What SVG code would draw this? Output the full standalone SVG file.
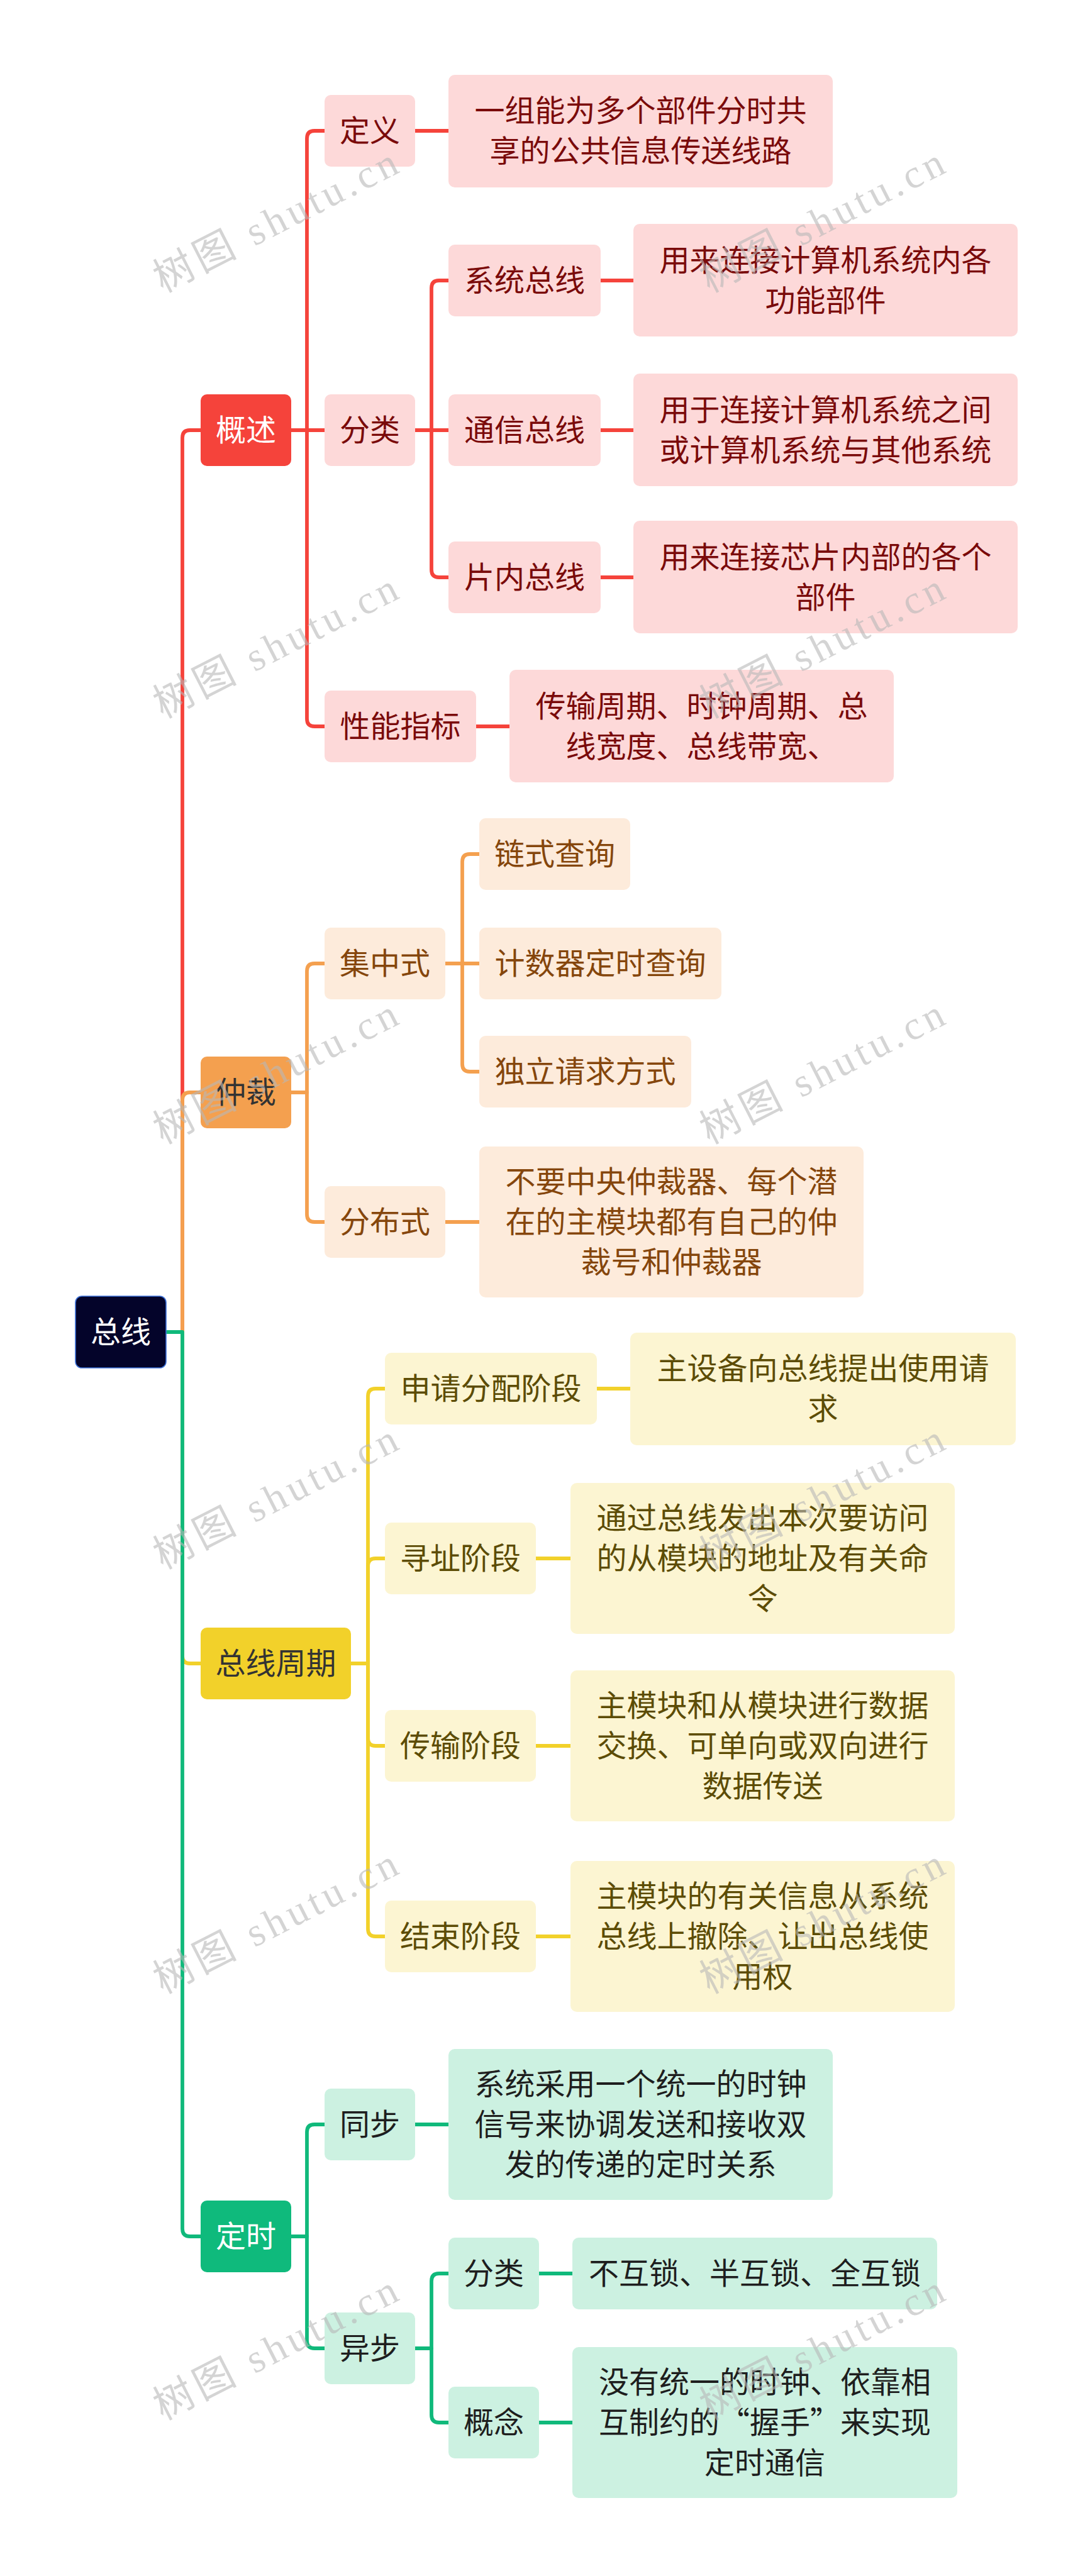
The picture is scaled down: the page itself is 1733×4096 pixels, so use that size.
<svg xmlns="http://www.w3.org/2000/svg" width="1733" height="4096" viewBox="0 0 1733 4096">
<style>
.ln{fill:none;stroke-width:5.8;stroke-linecap:butt;stroke-linejoin:round}
.lr{stroke:#f5433b}.lo{stroke:#f4a04f}.ly{stroke:#f2d12a}.lg{stroke:#10b97b}
.r1{fill:#f5433b}.r2{fill:#fdd9d9}.o1{fill:#f4a04f}.o2{fill:#fdebdb}.y1{fill:#f2d12a}.y2{fill:#fcf5d2}.g1{fill:#0fba7c}.g2{fill:#ccf1e1}
text{font-family:"Noto Sans CJK SC","Noto Sans",sans-serif;font-size:48px;text-anchor:middle}
.tr{fill:#7a0a0a}.to{fill:#85460c}.ty{fill:#5c4c05}.tg{fill:#1e1e1e}.tw{fill:#ffffff}.td{fill:#333333}
.wm{font-family:"Liberation Serif","Noto Sans CJK SC",serif;font-size:64px;fill:#b8b8b8;opacity:0.6}
</style>
<rect width="1733" height="4096" fill="#ffffff"/>
<g id="connectors">
<path class="ln lr" d="M264,2118 H290 V696 Q290,684 302,684 H319"/>
<path class="ln lo" d="M264,2118 H290 V1749 Q290,1737 302,1737 H319"/>
<path class="ln ly" d="M264,2118 H290 V2633 Q290,2645 302,2645 H319"/>
<path class="ln lg" d="M264,2118 H290 V3544 Q290,3556 302,3556 H319"/>
<path class="ln lr" d="M463,684 H488 V220 Q488,208 500,208 H516"/>
<path class="ln lr" d="M463,684 H516"/>
<path class="ln lr" d="M463,684 H488 V1143 Q488,1155 500,1155 H516"/>
<path class="ln lr" d="M660,208 H713"/>
<path class="ln lr" d="M660,684 H686 V458 Q686,446 698,446 H713"/>
<path class="ln lr" d="M660,684 H713"/>
<path class="ln lr" d="M660,684 H686 V906 Q686,918 698,918 H713"/>
<path class="ln lr" d="M955,446 H1007"/>
<path class="ln lr" d="M955,684 H1007"/>
<path class="ln lr" d="M955,918 H1007"/>
<path class="ln lr" d="M757,1155 H810"/>
<path class="ln lo" d="M463,1737 H488 V1544 Q488,1532 500,1532 H516"/>
<path class="ln lo" d="M463,1737 H488 V1931 Q488,1943 500,1943 H516"/>
<path class="ln lo" d="M708,1532 H735 V1370 Q735,1358 747,1358 H762"/>
<path class="ln lo" d="M708,1532 H762"/>
<path class="ln lo" d="M708,1532 H735 V1692 Q735,1704 747,1704 H762"/>
<path class="ln lo" d="M708,1943 H762"/>
<path class="ln ly" d="M558,2645 H585 V2220 Q585,2208 597,2208 H612"/>
<path class="ln ly" d="M558,2645 H585 V2490 Q585,2478 597,2478 H612"/>
<path class="ln ly" d="M558,2645 H585 V2764 Q585,2776 597,2776 H612"/>
<path class="ln ly" d="M558,2645 H585 V3067 Q585,3079 597,3079 H612"/>
<path class="ln ly" d="M949,2208 H1002"/>
<path class="ln ly" d="M852,2478 H907"/>
<path class="ln ly" d="M852,2776 H907"/>
<path class="ln ly" d="M852,3079 H907"/>
<path class="ln lg" d="M463,3556 H488 V3390 Q488,3378 500,3378 H516"/>
<path class="ln lg" d="M463,3556 H488 V3722 Q488,3734 500,3734 H516"/>
<path class="ln lg" d="M660,3378 H713"/>
<path class="ln lg" d="M660,3734 H686 V3627 Q686,3615 698,3615 H713"/>
<path class="ln lg" d="M660,3734 H686 V3840 Q686,3852 698,3852 H713"/>
<path class="ln lg" d="M857,3615 H910"/>
<path class="ln lg" d="M857,3852 H910"/>
</g>
<g id="root"><rect x="120" y="2061" width="144" height="114" rx="10" fill="#04042a" stroke="#3a6fd8" stroke-width="1.6"/><text class="tw" x="192" y="2135">总线</text></g>
<g id="n-gaishu"><rect class="r1" x="319" y="627" width="144" height="114" rx="10"/><text class="tw" x="391" y="701">概述</text></g>
<g id="n-dingyi"><rect class="r2" x="516" y="151" width="144" height="114" rx="10"/><text class="tr" x="588" y="225">定义</text></g>
<g id="n-dingyi-d"><rect class="r2" x="713" y="119" width="611" height="179" rx="10"/><text class="tr" x="1018.5" y="193">一组能为多个部件分时共</text><text class="tr" x="1018.5" y="257">享的公共信息传送线路</text></g>
<g id="n-fenlei"><rect class="r2" x="516" y="627" width="144" height="114" rx="10"/><text class="tr" x="588" y="701">分类</text></g>
<g id="n-xitong"><rect class="r2" x="713" y="389" width="242" height="114" rx="10"/><text class="tr" x="834" y="463">系统总线</text></g>
<g id="n-xitong-d"><rect class="r2" x="1007" y="356" width="611" height="179" rx="10"/><text class="tr" x="1312.5" y="431">用来连接计算机系统内各</text><text class="tr" x="1312.5" y="495">功能部件</text></g>
<g id="n-tongxin"><rect class="r2" x="713" y="627" width="242" height="114" rx="10"/><text class="tr" x="834" y="701">通信总线</text></g>
<g id="n-tongxin-d"><rect class="r2" x="1007" y="594" width="611" height="179" rx="10"/><text class="tr" x="1312.5" y="669">用于连接计算机系统之间</text><text class="tr" x="1312.5" y="733">或计算机系统与其他系统</text></g>
<g id="n-piannei"><rect class="r2" x="713" y="861" width="242" height="114" rx="10"/><text class="tr" x="834" y="935">片内总线</text></g>
<g id="n-piannei-d"><rect class="r2" x="1007" y="828" width="611" height="179" rx="10"/><text class="tr" x="1312.5" y="903">用来连接芯片内部的各个</text><text class="tr" x="1312.5" y="967">部件</text></g>
<g id="n-xingneng"><rect class="r2" x="516" y="1098" width="241" height="114" rx="10"/><text class="tr" x="636.5" y="1172">性能指标</text></g>
<g id="n-xingneng-d"><rect class="r2" x="810" y="1065" width="611" height="179" rx="10"/><text class="tr" x="1115.5" y="1140">传输周期、时钟周期、总</text><text class="tr" x="1115.5" y="1204">线宽度、总线带宽、</text></g>
<g id="n-zhongcai"><rect class="o1" x="319" y="1680" width="144" height="114" rx="10"/><text class="td" x="391" y="1754">仲裁</text></g>
<g id="n-jizhong"><rect class="o2" x="516" y="1475" width="192" height="114" rx="10"/><text class="to" x="612" y="1549">集中式</text></g>
<g id="n-lianshi"><rect class="o2" x="762" y="1301" width="240" height="114" rx="10"/><text class="to" x="882" y="1375">链式查询</text></g>
<g id="n-jishuqi"><rect class="o2" x="762" y="1475" width="385" height="114" rx="10"/><text class="to" x="954.5" y="1549">计数器定时查询</text></g>
<g id="n-duli"><rect class="o2" x="762" y="1647" width="337" height="114" rx="10"/><text class="to" x="930.5" y="1721">独立请求方式</text></g>
<g id="n-fenbu"><rect class="o2" x="516" y="1886" width="192" height="114" rx="10"/><text class="to" x="612" y="1960">分布式</text></g>
<g id="n-fenbu-d"><rect class="o2" x="762" y="1823" width="611" height="240" rx="10"/><text class="to" x="1067.5" y="1896">不要中央仲裁器、每个潜</text><text class="to" x="1067.5" y="1960">在的主模块都有自己的仲</text><text class="to" x="1067.5" y="2024">裁号和仲裁器</text></g>
<g id="n-zhouqi"><rect class="y1" x="319" y="2588" width="239" height="114" rx="10"/><text class="td" x="438.5" y="2662">总线周期</text></g>
<g id="n-shenqing"><rect class="y2" x="612" y="2151" width="337" height="114" rx="10"/><text class="ty" x="780.5" y="2225">申请分配阶段</text></g>
<g id="n-shenqing-d"><rect class="y2" x="1002" y="2119" width="613" height="179" rx="10"/><text class="ty" x="1308.5" y="2193">主设备向总线提出使用请</text><text class="ty" x="1308.5" y="2257">求</text></g>
<g id="n-xunzhi"><rect class="y2" x="612" y="2421" width="240" height="114" rx="10"/><text class="ty" x="732" y="2495">寻址阶段</text></g>
<g id="n-xunzhi-d"><rect class="y2" x="907" y="2358" width="611" height="240" rx="10"/><text class="ty" x="1212.5" y="2431">通过总线发出本次要访问</text><text class="ty" x="1212.5" y="2495">的从模块的地址及有关命</text><text class="ty" x="1212.5" y="2559">令</text></g>
<g id="n-chuanshu"><rect class="y2" x="612" y="2719" width="240" height="114" rx="10"/><text class="ty" x="732" y="2793">传输阶段</text></g>
<g id="n-chuanshu-d"><rect class="y2" x="907" y="2656" width="611" height="240" rx="10"/><text class="ty" x="1212.5" y="2729">主模块和从模块进行数据</text><text class="ty" x="1212.5" y="2793">交换、可单向或双向进行</text><text class="ty" x="1212.5" y="2857">数据传送</text></g>
<g id="n-jieshu"><rect class="y2" x="612" y="3022" width="240" height="114" rx="10"/><text class="ty" x="732" y="3096">结束阶段</text></g>
<g id="n-jieshu-d"><rect class="y2" x="907" y="2959" width="611" height="240" rx="10"/><text class="ty" x="1212.5" y="3032">主模块的有关信息从系统</text><text class="ty" x="1212.5" y="3096">总线上撤除、让出总线使</text><text class="ty" x="1212.5" y="3160">用权</text></g>
<g id="n-dingshi"><rect class="g1" x="319" y="3499" width="144" height="114" rx="10"/><text class="tw" x="391" y="3573">定时</text></g>
<g id="n-tongbu"><rect class="g2" x="516" y="3321" width="144" height="114" rx="10"/><text class="tg" x="588" y="3395">同步</text></g>
<g id="n-tongbu-d"><rect class="g2" x="713" y="3258" width="611" height="240" rx="10"/><text class="tg" x="1018.5" y="3331">系统采用一个统一的时钟</text><text class="tg" x="1018.5" y="3395">信号来协调发送和接收双</text><text class="tg" x="1018.5" y="3459">发的传递的定时关系</text></g>
<g id="n-yibu"><rect class="g2" x="516" y="3677" width="144" height="114" rx="10"/><text class="tg" x="588" y="3751">异步</text></g>
<g id="n-yb-fenlei"><rect class="g2" x="713" y="3558" width="144" height="114" rx="10"/><text class="tg" x="785" y="3632">分类</text></g>
<g id="n-yb-fenlei-d"><rect class="g2" x="910" y="3558" width="580" height="114" rx="10"/><text class="tg" x="1200" y="3632">不互锁、半互锁、全互锁</text></g>
<g id="n-gainian"><rect class="g2" x="713" y="3795" width="144" height="114" rx="10"/><text class="tg" x="785" y="3869">概念</text></g>
<g id="n-gainian-d"><rect class="g2" x="910" y="3732" width="612" height="240" rx="10"/><text class="tg" x="1216" y="3805">没有统一的时钟、依靠相</text><text class="tg" x="1216" y="3869">互制约的“握手”来实现</text><text class="tg" x="1216" y="3933">定时通信</text></g>
<g id="watermarks">
<text class="wm" x="438" y="372" textLength="425" lengthAdjust="spacing" transform="rotate(-27 438 350)">树图 shutu.cn</text>
<text class="wm" x="1307" y="372" textLength="425" lengthAdjust="spacing" transform="rotate(-27 1307 350)">树图 shutu.cn</text>
<text class="wm" x="438" y="1049" textLength="425" lengthAdjust="spacing" transform="rotate(-27 438 1027)">树图 shutu.cn</text>
<text class="wm" x="1307" y="1049" textLength="425" lengthAdjust="spacing" transform="rotate(-27 1307 1027)">树图 shutu.cn</text>
<text class="wm" x="438" y="1726" textLength="425" lengthAdjust="spacing" transform="rotate(-27 438 1704)">树图 shutu.cn</text>
<text class="wm" x="1307" y="1726" textLength="425" lengthAdjust="spacing" transform="rotate(-27 1307 1704)">树图 shutu.cn</text>
<text class="wm" x="438" y="2402" textLength="425" lengthAdjust="spacing" transform="rotate(-27 438 2380)">树图 shutu.cn</text>
<text class="wm" x="1307" y="2402" textLength="425" lengthAdjust="spacing" transform="rotate(-27 1307 2380)">树图 shutu.cn</text>
<text class="wm" x="438" y="3077" textLength="425" lengthAdjust="spacing" transform="rotate(-27 438 3055)">树图 shutu.cn</text>
<text class="wm" x="1307" y="3077" textLength="425" lengthAdjust="spacing" transform="rotate(-27 1307 3055)">树图 shutu.cn</text>
<text class="wm" x="438" y="3755" textLength="425" lengthAdjust="spacing" transform="rotate(-27 438 3733)">树图 shutu.cn</text>
<text class="wm" x="1307" y="3755" textLength="425" lengthAdjust="spacing" transform="rotate(-27 1307 3733)">树图 shutu.cn</text>
</g>
</svg>
